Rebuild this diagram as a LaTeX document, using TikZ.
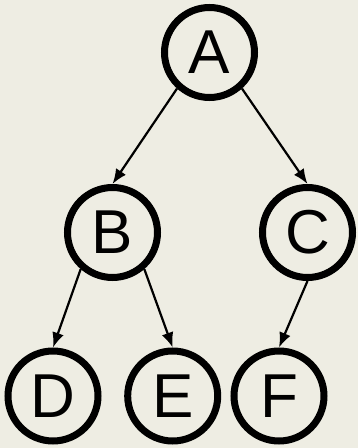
\documentclass[tikz,border=0pt]{standalone}
\usepackage{fontspec}
\setmainfont{Liberation Sans}
\usetikzlibrary{arrows.meta}
\definecolor{bg}{RGB}{238,237,227}
\begin{document}
\begin{tikzpicture}[x=1pt,y=1pt,
  treenode/.style={circle,draw=black,line width=7pt,minimum size=90pt,inner sep=0pt,font=\fontsize{62}{62}\selectfont},
  edge/.style={-{Latex[length=15pt,width=12pt]},line width=2.2pt}]
\fill[bg] (0,0) rectangle (358,448);
\useasboundingbox (0,0) rectangle (358,448);
\node[treenode] (A) at (209.5,395.5) {A};
\node[treenode] (B) at (112.5,215.5) {B};
\node[treenode] (C) at (307.5,215.5) {C};
\node[treenode] (D) at (53,52) {D};
\node[treenode] (E) at (172.7,52) {E};
\node[treenode] (F) at (279,52) {F};
\draw[edge] (A.228) -- (B.north);
\draw[edge] (A.312) -- (C.north);
\draw[edge] (B.229) -- (D.north);
\draw[edge] (B.311) -- (E.north);
\draw[edge] (C.south) -- (F.north);
\end{tikzpicture}
\end{document}
